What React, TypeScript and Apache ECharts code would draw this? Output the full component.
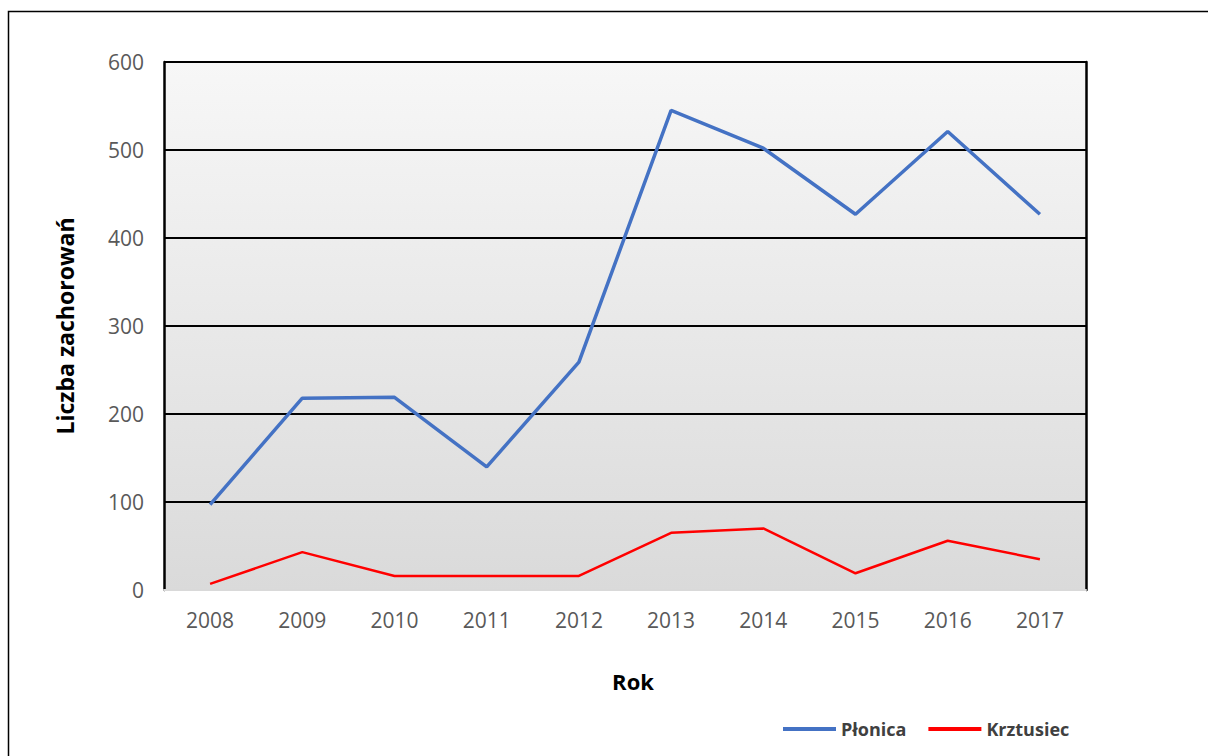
import React, { useEffect, useRef } from "react";
import * as echarts from "echarts";

const years = ["2008", "2009", "2010", "2011", "2012", "2013", "2014", "2015", "2016", "2017"];
const plonica = [97, 218, 219, 140, 259, 545, 502, 427, 521, 427];
const krztusiec = [7, 43, 16, 16, 16, 65, 70, 19, 56, 35];
const seriesNames = ["Płonica", "Krztusiec"];

const FONT = "'Open Sans', 'Noto Sans', sans-serif";

export default function App() {
  const ref = useRef<HTMLDivElement>(null);
  useEffect(() => {
    if (!ref.current) return;
    const chart = echarts.init(ref.current, undefined, { renderer: "svg" });
    chart.setOption({
      animation: false,
      backgroundColor: "#ffffff",
      graphic: [
        {
          type: "rect",
          shape: { x: 8.5, y: 11.5, width: 1300, height: 900 },
          style: { fill: "none", stroke: "#000", lineWidth: 1.5 },
          z: -10,
        },
      ],
      grid: {
        left: 164,
        top: 62,
        width: 922,
        height: 528,
        show: true,
        borderWidth: 0,
        backgroundColor: new echarts.graphic.LinearGradient(0, 0, 0, 1, [
          { offset: 0, color: "#f7f7f7" },
          { offset: 1, color: "#dadada" },
        ]),
      },
      legend: {
        left: 778,
        top: 715,
        itemWidth: 53,
        itemHeight: 4,
        itemGap: 22,
        icon: "rect",
        textStyle: { fontFamily: FONT, fontSize: 18, fontWeight: "bold", color: "#404040" },
        data: seriesNames,
      },
      xAxis: {
        type: "category",
        data: years,
        boundaryGap: true,
        axisLine: { show: true, lineStyle: { color: "#d9d9d9", width: 2 } },
        axisTick: { show: false },
        axisLabel: { fontFamily: FONT, fontSize: 21, color: "#595959", margin: 19 },
        name: "Rok",
        nameLocation: "middle",
        nameGap: 80,
        nameTextStyle: { fontFamily: FONT, fontSize: 22, fontWeight: "bold", color: "#000", padding: [0, 0, 0, 16] },
      },
      yAxis: [
        {
          type: "value",
          min: 0,
          max: 600,
          interval: 100,
          axisLine: { show: true, lineStyle: { color: "#000", width: 2.5 } },
          axisTick: { show: false },
          splitLine: { show: true, lineStyle: { color: "#000", width: 2 } },
          axisLabel: { fontFamily: FONT, fontSize: 21, color: "#595959", margin: 20 },
          name: "Liczba zachorowań",
          nameLocation: "middle",
          nameGap: 88,
          nameRotate: 90,
          nameTextStyle: { fontFamily: FONT, fontSize: 23, fontWeight: "bold", color: "#000" },
        },
        {
          type: "value",
          min: 0,
          max: 600,
          interval: 100,
          position: "right",
          axisLine: { show: true, lineStyle: { color: "#000", width: 2.5 } },
          axisTick: { show: false },
          splitLine: { show: false },
          axisLabel: { show: false },
        },
      ],
      series: [
        {
          name: seriesNames[0],
          type: "line",
          data: plonica,
          symbol: "none",
          lineStyle: { color: "#4472C4", width: 3.5 },
          itemStyle: { color: "#4472C4" },
          z: 5,
        },
        {
          name: seriesNames[1],
          type: "line",
          data: krztusiec,
          symbol: "none",
          lineStyle: { color: "#FF0000", width: 2.5 },
          itemStyle: { color: "#FF0000" },
          z: 4,
        },
      ],
    });
    return () => chart.dispose();
  }, []);
  return (
    <div
      ref={ref}
      style={{ position: "fixed", left: 0, top: 0, width: 1208, height: 756 }}
    />
  );
}
